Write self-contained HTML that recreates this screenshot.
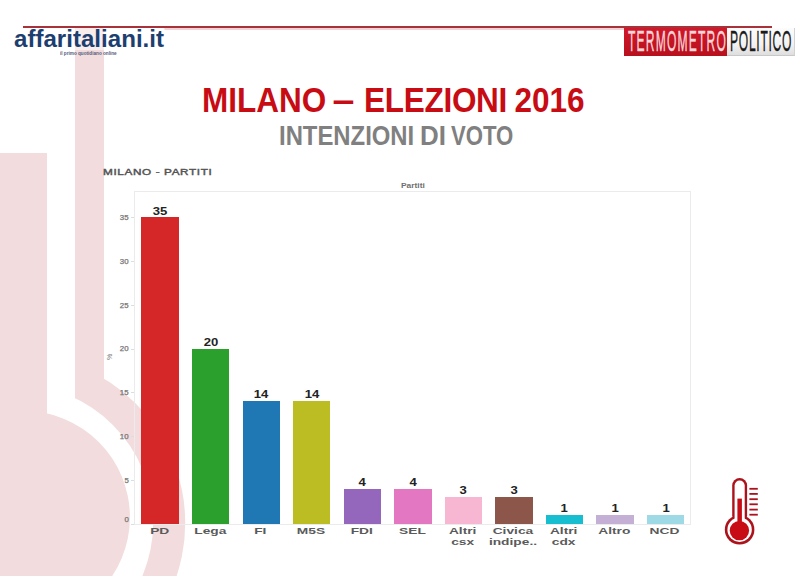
<!DOCTYPE html>
<html><head><meta charset="utf-8">
<style>
html,body{margin:0;padding:0;background:#fff;}
body{width:800px;height:576px;position:relative;overflow:hidden;font-family:"Liberation Sans",sans-serif;}
.a{position:absolute;white-space:nowrap;}
.sx{transform-origin:0 0;}
.bar{position:absolute;}
.val{position:absolute;font-weight:bold;font-size:11px;color:#222;line-height:12px;text-align:center;width:60px;}
.xl{position:absolute;font-weight:bold;font-size:9.7px;color:#5a5a5a;line-height:10.8px;text-align:center;width:80px;}
.yl{position:absolute;font-size:6.8px;color:#777;-webkit-text-stroke:0.25px #777;line-height:8px;text-align:right;width:30px;}
.tk{position:absolute;left:131px;width:3px;height:1px;background:#ddd;}
.c{display:inline-block;}
</style></head><body>

<svg class="a" style="left:0;top:0" width="800" height="576" viewBox="0 0 800 576">
  <g fill="#f2dcdd"><rect x="-300" y="28" width="404" height="490"/><circle cx="16.4" cy="522.9" r="168.8"/></g>
  <g fill="#fff"><rect x="-300" y="28" width="375" height="490"/><circle cx="15.4" cy="522.4" r="137.8"/></g>
  <g fill="#f2dcdd"><rect x="-300" y="153" width="347" height="365"/><circle cx="23.5" cy="517.2" r="106.4"/></g>
</svg>

<div class="a" style="left:23px;top:26px;width:749px;height:2px;background:#a8323a"></div>
<div class="a" style="left:164px;top:28px;width:608px;height:2px;background:#f3d3d5"></div>

<div class="a" style="left:10px;top:28px;width:155px;height:22px;background:rgba(255,255,255,0.45)"></div>
<div class="a sx" style="left:14px;top:26px;font-size:23px;font-weight:bold;color:#1d3f70;line-height:26px;transform:scaleX(1.048)">affaritaliani.it</div>
<div class="a" style="left:60px;top:49.6px;font-size:5.4px;font-weight:bold;color:#55607a;line-height:6px;transform-origin:0 0;transform:scaleX(0.86)">il primo quotidiano online</div>

<div class="a" style="left:624px;top:28px;width:103px;height:28px;background:linear-gradient(#d0182a,#b8101e)"></div>
<div class="a" style="left:727px;top:28px;width:67px;height:27px;background:linear-gradient(#fcfcfc,#f2f2f2 60%,#dedede);border-right:1px solid #d2d2d2;border-bottom:1px solid #c8c8c8"></div>
<div class="a sx" style="left:627.6px;top:25.9px;font-size:28.8px;color:#fbd6d8;-webkit-text-stroke:0.35px #fbd6d8;letter-spacing:2.8px;line-height:30px;transform:scaleX(0.42)">TERMOMETRO</div>
<div class="a sx" style="left:729.6px;top:25.9px;font-size:28.8px;color:#1a1a1a;-webkit-text-stroke:0.35px #1a1a1a;letter-spacing:1.7px;line-height:30px;transform:scaleX(0.42)">POLITICO</div>

<div class="a sx" style="left:201.6px;top:80.2px;font-size:34.6px;font-weight:bold;color:#c80c14;line-height:40px;transform:scaleX(0.911)">MILANO <span style="display:inline-block;letter-spacing:3px;transform:scaleX(1.25)">–</span> <span style="letter-spacing:-0.3px">ELEZIONI</span><span style="margin-left:-1.6px"> 2016</span></div>
<div class="a sx" style="left:279.2px;top:120.9px;font-size:27px;font-weight:bold;color:#808080;line-height:30px;transform:scaleX(0.8835)">INTENZIONI</div>
<div class="a sx" style="left:420.2px;top:120.9px;font-size:27px;font-weight:bold;color:#808080;line-height:30px;transform:scaleX(0.96)">DI</div>
<div class="a sx" style="left:451px;top:120.9px;font-size:27px;font-weight:bold;color:#808080;line-height:30px;transform:scaleX(0.82)">VOTO</div>
<div class="a sx" style="left:102.6px;top:165.8px;font-size:9.4px;color:#555;-webkit-text-stroke:0.45px #555;letter-spacing:0.5px;line-height:11px;transform:scaleX(1.252)">MILANO - PARTITI</div>

<div class="a" style="left:134px;top:191px;width:555px;height:332px;border:1px solid #ebebeb"></div>
<div class="a sx" style="left:400.6px;top:181.5px;font-size:7px;font-weight:bold;color:#707070;line-height:8px;transform:scaleX(1.2)">Partiti</div>

<div class="bar" style="left:141.45px;top:217.46px;width:37.35px;height:306.54px;background:#d62728"></div>
<div class="val" style="left:130.12px;top:204.56px"><span class="c" style="transform:scaleX(1.19)">35</span></div>
<div class="xl" style="left:119.53px;top:526.1px"><span class="c" style="transform:scaleX(1.42)">PD</span></div>
<div class="bar" style="left:192.00px;top:348.62px;width:37.35px;height:175.38px;background:#2ca02c"></div>
<div class="val" style="left:180.67px;top:335.72px"><span class="c" style="transform:scaleX(1.19)">20</span></div>
<div class="xl" style="left:170.07px;top:526.1px"><span class="c" style="transform:scaleX(1.42)">Lega</span></div>
<div class="bar" style="left:242.54px;top:401.08px;width:37.35px;height:122.92px;background:#1f77b4"></div>
<div class="val" style="left:231.21px;top:388.18px"><span class="c" style="transform:scaleX(1.19)">14</span></div>
<div class="xl" style="left:220.61px;top:526.1px"><span class="c" style="transform:scaleX(1.42)">FI</span></div>
<div class="bar" style="left:293.08px;top:401.08px;width:37.35px;height:122.92px;background:#bcbd22"></div>
<div class="val" style="left:281.76px;top:388.18px"><span class="c" style="transform:scaleX(1.19)">14</span></div>
<div class="xl" style="left:271.16px;top:526.1px"><span class="c" style="transform:scaleX(1.42)">M5S</span></div>
<div class="bar" style="left:343.63px;top:488.52px;width:37.35px;height:35.48px;background:#9467bd"></div>
<div class="val" style="left:332.31px;top:475.62px"><span class="c" style="transform:scaleX(1.19)">4</span></div>
<div class="xl" style="left:321.70px;top:526.1px"><span class="c" style="transform:scaleX(1.42)">FDI</span></div>
<div class="bar" style="left:394.18px;top:488.52px;width:37.35px;height:35.48px;background:#e377c2"></div>
<div class="val" style="left:382.85px;top:475.62px"><span class="c" style="transform:scaleX(1.19)">4</span></div>
<div class="xl" style="left:372.25px;top:526.1px"><span class="c" style="transform:scaleX(1.42)">SEL</span></div>
<div class="bar" style="left:444.72px;top:497.27px;width:37.35px;height:26.73px;background:#f7b6d2"></div>
<div class="val" style="left:433.39px;top:484.37px"><span class="c" style="transform:scaleX(1.19)">3</span></div>
<div class="xl" style="left:422.79px;top:526.1px"><span class="c" style="transform:scaleX(1.42)">Altri<br>csx</span></div>
<div class="bar" style="left:495.26px;top:497.27px;width:37.35px;height:26.73px;background:#8c564b"></div>
<div class="val" style="left:483.94px;top:484.37px"><span class="c" style="transform:scaleX(1.19)">3</span></div>
<div class="xl" style="left:473.34px;top:526.1px"><span class="c" style="transform:scaleX(1.42)">Civica<br>indipe..</span></div>
<div class="bar" style="left:545.81px;top:514.76px;width:37.35px;height:9.24px;background:#17becf"></div>
<div class="val" style="left:534.48px;top:501.86px"><span class="c" style="transform:scaleX(1.19)">1</span></div>
<div class="xl" style="left:523.88px;top:526.1px"><span class="c" style="transform:scaleX(1.42)">Altri<br>cdx</span></div>
<div class="bar" style="left:596.36px;top:514.76px;width:37.35px;height:9.24px;background:#c5b0d5"></div>
<div class="val" style="left:585.03px;top:501.86px"><span class="c" style="transform:scaleX(1.19)">1</span></div>
<div class="xl" style="left:574.43px;top:526.1px"><span class="c" style="transform:scaleX(1.42)">Altro</span></div>
<div class="bar" style="left:646.90px;top:514.76px;width:37.35px;height:9.24px;background:#9edae5"></div>
<div class="val" style="left:635.58px;top:501.86px"><span class="c" style="transform:scaleX(1.19)">1</span></div>
<div class="xl" style="left:624.98px;top:526.1px"><span class="c" style="transform:scaleX(1.42)">NCD</span></div>
<div class="yl" style="left:98.5px;top:515.60px"><span class="c" style="transform:scaleX(1.15);transform-origin:100% 0">0</span></div>
<div class="tk" style="top:523.50px"></div>
<div class="yl" style="left:98.5px;top:476.58px"><span class="c" style="transform:scaleX(1.15);transform-origin:100% 0">5</span></div>
<div class="tk" style="top:479.78px"></div>
<div class="yl" style="left:98.5px;top:432.86px"><span class="c" style="transform:scaleX(1.15);transform-origin:100% 0">10</span></div>
<div class="tk" style="top:436.06px"></div>
<div class="yl" style="left:98.5px;top:389.14px"><span class="c" style="transform:scaleX(1.15);transform-origin:100% 0">15</span></div>
<div class="tk" style="top:392.34px"></div>
<div class="yl" style="left:98.5px;top:345.42px"><span class="c" style="transform:scaleX(1.15);transform-origin:100% 0">20</span></div>
<div class="tk" style="top:348.62px"></div>
<div class="yl" style="left:98.5px;top:301.70px"><span class="c" style="transform:scaleX(1.15);transform-origin:100% 0">25</span></div>
<div class="tk" style="top:304.90px"></div>
<div class="yl" style="left:98.5px;top:257.98px"><span class="c" style="transform:scaleX(1.15);transform-origin:100% 0">30</span></div>
<div class="tk" style="top:261.18px"></div>
<div class="yl" style="left:98.5px;top:214.26px"><span class="c" style="transform:scaleX(1.15);transform-origin:100% 0">35</span></div>
<div class="tk" style="top:217.46px"></div>
<div class="a" style="left:107px;top:353px;font-size:7px;color:#777;line-height:8px;transform:rotate(-90deg)">%</div>
<svg class="a" style="left:700px;top:460px" width="80" height="100" viewBox="700 460 80 100">
  <g fill="#ab121c">
    <rect x="732.2" y="478" width="14.9" height="45" rx="7.45"/>
    <circle cx="739.6" cy="529.7" r="14.8"/>
    <rect x="749.4" y="487.9" width="8.4" height="1.8"/>
    <rect x="749.4" y="493.0" width="8.4" height="1.8"/>
    <rect x="749.4" y="498.3" width="8.4" height="1.8"/>
    <rect x="749.4" y="503.4" width="8.4" height="1.8"/>
    <rect x="749.4" y="508.7" width="8.4" height="1.8"/>
    <rect x="749.4" y="513.8" width="8.4" height="1.8"/>
  </g>
  <g fill="#fff">
    <rect x="734.6" y="480.4" width="10.1" height="45" rx="5.05"/>
    <circle cx="739.6" cy="529.7" r="12.2"/>
  </g>
  <g fill="#c80c16">
    <rect x="737.4" y="498.6" width="4.5" height="30"/>
    <circle cx="739.4" cy="530.6" r="9.7"/>
  </g>
</svg>
</body></html>
